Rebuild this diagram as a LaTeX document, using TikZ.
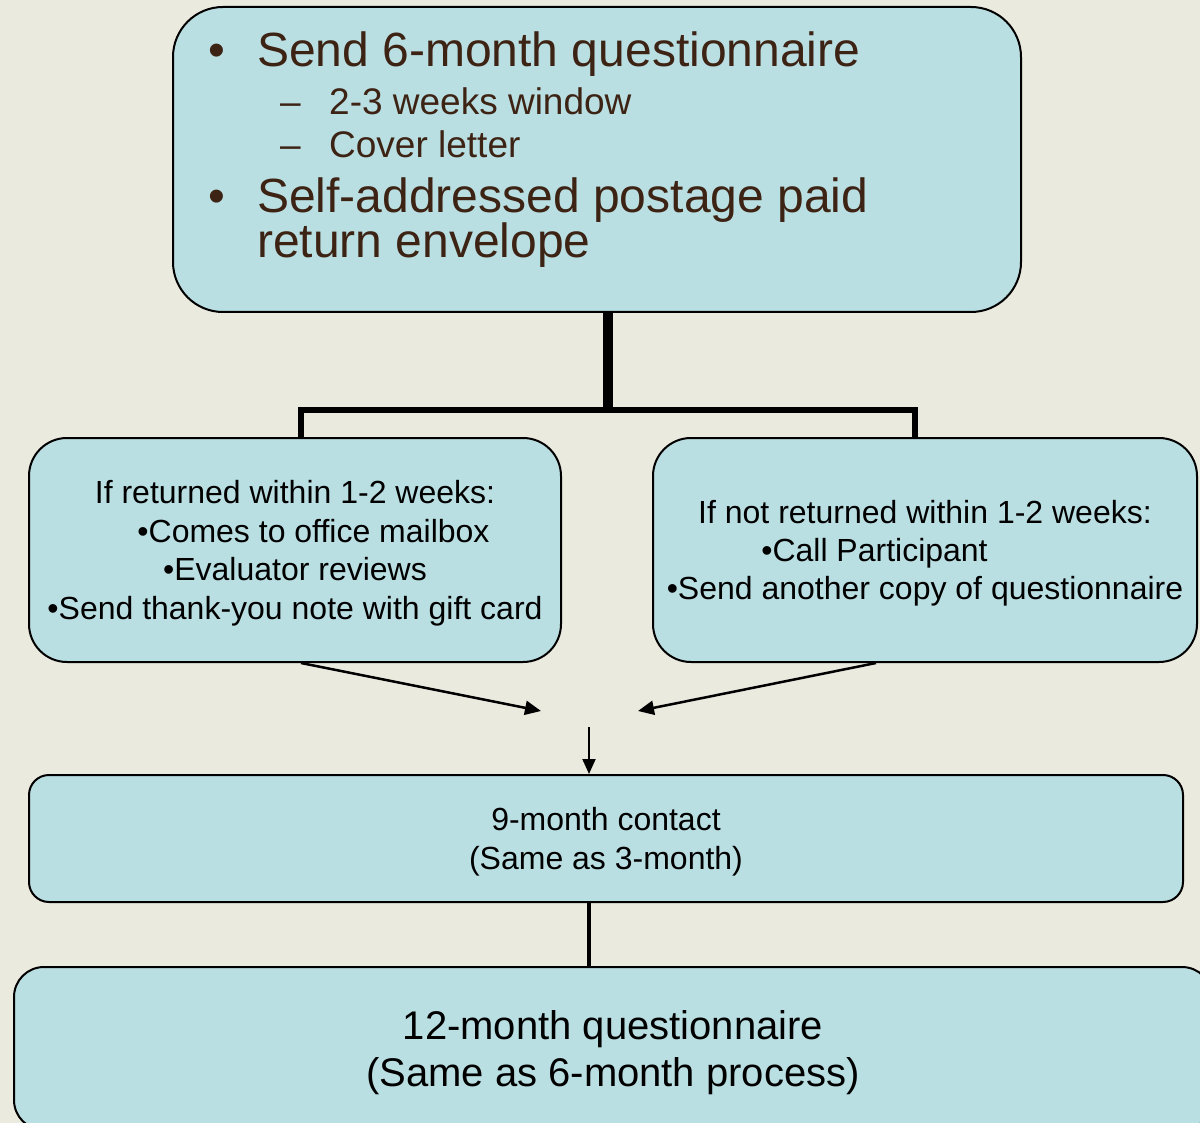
\documentclass[tikz,border=0pt]{standalone}
\usepackage{fontspec}
\setmainfont{Liberation Sans}
\usepackage{tikz}
\usepackage{xcolor}
\usetikzlibrary{arrows.meta,positioning}

\definecolor{bgcol}{HTML}{EBEADF}
\definecolor{boxfill}{HTML}{BADFE3}
\definecolor{txtbrown}{HTML}{3D2314}

\tikzset{
  stagebox/.style={draw, line width=2pt, fill=boxfill, align=center, text depth=0pt,
    font=\fontsize{32}{38.4}\selectfont},
  flowarrow/.style={line width=2.5pt, -{Triangle[length=16pt,width=14pt]}},
  toptext/.style={anchor=base west, inner sep=0pt, text=txtbrown, align=left}
}

\begin{document}
\begin{tikzpicture}[x=1pt,y=-1pt]
  % Page and background
  \useasboundingbox (0,0) rectangle (1200,1123);
  \fill[bgcol] (0,0) rectangle (1200,1123);
  \clip (0,0) rectangle (1200,1123);

  % Define coordinates
  \coordinate (fork) at (608,410);
  \coordinate (lend) at (541,711);
  \coordinate (rend) at (638,711);
  \coordinate (drop) at (589,727);

  % Draw boxes
  \node[stagebox, rounded corners=50pt, minimum width=848pt, minimum height=305pt] (send) at (597,159.5) {};
  \node[stagebox, rounded corners=38pt, minimum width=532pt, minimum height=224pt] (left) at (295,550)
    {If returned within 1-2 weeks:\\\hspace*{37pt}•Comes to office mailbox\\•Evaluator reviews\\•Send thank-you note with gift card};
  \node[stagebox, rounded corners=38pt, minimum width=544pt, minimum height=224pt] (right) at (925,550)
    {If not returned within 1-2 weeks:\\•Call Participant\rule{101pt}{0pt}\\•Send another copy of questionnaire};
  \node[stagebox, rounded corners=20pt, minimum width=1154pt, minimum height=127pt] (mid) at (606,838.5)
    {9-month contact\\(Same as 3-month)};
  \node[stagebox, rounded corners=30pt, minimum width=1198pt, minimum height=163pt,
    font=\fontsize{40}{47}\selectfont] (last) at (613,1048.5)
    {12-month questionnaire\\(Same as 6-month process)};

  % Add text of the first box
  \node[toptext, font=\fontsize{48}{48}\selectfont] (q6) at (208,67)
    {\makebox[49pt][l]{•}Send 6-month questionnaire};
  \node[toptext, font=\fontsize{37}{37}\selectfont] (win) at (280,115)
    {\makebox[49pt][l]{–}2-3 weeks window};
  \node[toptext, font=\fontsize{37}{37}\selectfont] (cover) at (280,158)
    {\makebox[49pt][l]{–}Cover letter};
  \node[toptext, font=\fontsize{48}{45}\selectfont] (env) at (208,258)
    {\makebox[49pt][l]{•}Self-addressed postage paid\\\hspace*{49pt}return envelope};

  % Draw connectors
  \draw[line width=10pt] (send.south -| fork) -- (fork);
  \draw[line width=6pt] ([xshift=6pt]left.north) |- (fork) -| ([xshift=-10pt]right.north);
  \draw[flowarrow] ([xshift=6pt]left.south) -- (lend);
  \draw[flowarrow] ([xshift=-49pt]right.south) -- (rend);
  \draw[line width=2pt, -{Triangle[length=15pt,width=13pt]}] (drop) -- (mid.north -| drop);
  \draw[line width=4pt] ([xshift=-17pt]mid.south) -- ([xshift=-24pt]last.north);
\end{tikzpicture}
\end{document}
